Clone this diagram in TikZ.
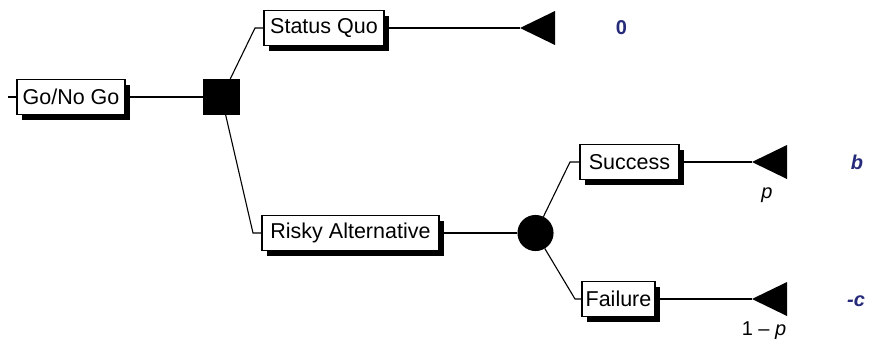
\documentclass[tikz,border=0pt]{standalone}
\usepackage{fontspec}
\setmainfont{Liberation Sans}
\usetikzlibrary{shadows}
\definecolor{navy1}{HTML}{262A7A}

\begin{document}
\begin{tikzpicture}[x=1pt, y=-1pt, line width=1.1pt,
  box/.style={draw, fill=white, minimum height=35pt, inner xsep=3pt,
    font=\fontsize{21.5}{25}\selectfont,
    drop shadow={shadow xshift=5pt, shadow yshift=-5pt, opacity=1, fill=black}},
  decision/.style={draw, fill=black, minimum size=35pt, inner sep=0pt},
  chance/.style={circle, draw, fill=black, minimum size=35pt, inner sep=0pt},
  payoff/.style={text=navy1, font=\fontsize{20}{24}\selectfont\bfseries},
  prob/.style={font=\fontsize{20}{24}\selectfont}]
\useasboundingbox (0,0) rectangle (871,338);
% boxes
\node[box, minimum width=108pt] (go) at (71,97) {Go/No Go};
\node[box, minimum width=120pt] (quo) at (324,28) {Status Quo};
\node[box, minimum width=177pt] (risky) at (350.5,233) {Risky Alternative};
\node[box, minimum width=99pt] (succ) at (629.5,162) {Success};
\node[box, minimum width=73pt] (fail) at (618.5,299) {Failure};
% decision and chance
\node[decision] (dec) at (221.5,97) {};
\node[chance] (chn) at (535.5,233) {};
% bends
\coordinate (start) at (8,97);
\coordinate (bquo) at (255,28);
\coordinate (brisky) at (253,233);
\coordinate (bsucc) at (570,162);
\coordinate (bfail) at (575,299);
% ends
\coordinate (tquo) at (520,28);
\coordinate (tsucc) at (752,162);
\coordinate (tfail) at (752,299);
\foreach \t in {tquo,tsucc,tfail}
  \fill (\t) -- ++(35,-17) -- ++(0,34) -- cycle;
% connectors
\draw (start) -- (go.west);
\draw (go.east) -- (dec.west);
\draw (dec) -- (bquo) -- (quo.west);
\draw (dec) -- (brisky) -- (risky.west);
\draw (quo.east) -- (tquo);
\draw (risky.east) -- (chn.west);
\draw (chn) -- (bsucc) -- (succ.west);
\draw (chn) -- (bfail) -- (fail.west);
\draw (succ.east) -- (tsucc);
\draw (fail.east) -- (tfail);
% labels
\node[payoff] (vquo) at (621.5,28) {0};
\node[payoff] (vsucc) at (857,162) {\itshape b};
\node[payoff] (vfail) at (856,301) {\itshape -c};
\node[prob] (psucc) at (767,195) {\itshape p};
\node[prob, anchor=base] (pfail) at (764,335) {1 -- \itshape p};
\end{tikzpicture}
\end{document}
